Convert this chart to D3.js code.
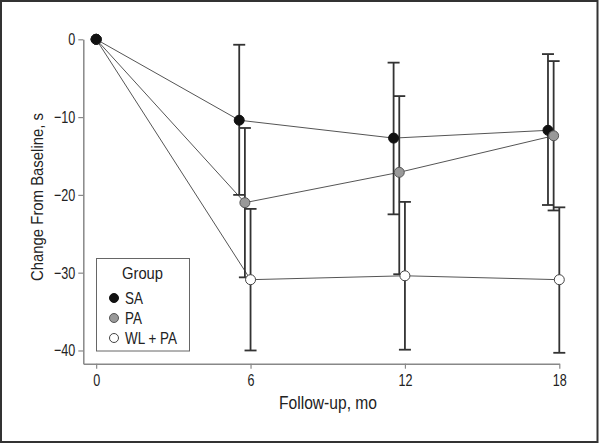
<!DOCTYPE html>
<html>
<head>
<meta charset="utf-8">
<script src="https://cdn.jsdelivr.net/npm/d3@7"></script>
<style>
  body { margin: 0; background: #fff; }
  svg { display: block; }
  text { font-family: "Liberation Sans", Arial, sans-serif; fill: #222; }
</style>
</head>
<body>
<svg id="chart" width="600" height="444"></svg>
<script>
// Data
const months = [0, 6, 12, 18];
const groups = ['SA', 'PA', 'WL + PA'];

const saMean = [0, -10.4, -12.7, -11.7];
const saLow  = [null, -20.0, -22.5, -21.3];
const saHigh = [null, -0.7, -3.0, -1.9];

const paMean = [0, -21.0, -17.1, -12.4];
const paLow  = [null, -30.6, -30.2, -22.0];
const paHigh = [null, -11.4, -7.3, -2.8];

const wlMean = [0, -30.9, -30.4, -30.9];
const wlLow  = [null, -40.0, -39.9, -40.3];
const wlHigh = [null, -21.8, -20.9, -21.6];

const yTicks = [0, -10, -20, -30, -40];

const series = [
    { name: groups[0], mean: saMean, low: saLow, high: saHigh, fill: '#111', stroke: '#111', dodge: -0.44 },
    { name: groups[1], mean: paMean, low: paLow, high: paHigh, fill: '#999', stroke: '#555', dodge: -0.22 },
    { name: groups[2], mean: wlMean, low: wlLow, high: wlHigh, fill: '#fff', stroke: '#444', dodge: 0 }
];

const svg = d3.select('#chart');

// squeeze Liberation Sans so it reads like a condensed face
function condense(sel, k) {
    sel.each(function () {
        const w = this.getComputedTextLength();
        d3.select(this).attr('textLength', w * k).attr('lengthAdjust', 'spacingAndGlyphs');
    });
}

// frame
svg.append('rect')
    .attr('x', 1).attr('y', 1)
    .attr('width', 596.5).attr('height', 441)
    .attr('fill', 'none')
    .attr('stroke', '#333')
    .attr('stroke-width', 2);

const x = d3.scaleLinear().domain([-0.5, 18]).range([83.3, 559.3]);
const y = d3.scaleLinear().domain([-41.7, 0]).range([363.7, 39.3]);

// x position, dodged except at baseline
const px = (s, i) => x(months[i] + (months[i] === 0 ? 0 : s.dodge));

// Axes
const xAxis = svg.append('g')
    .attr('transform', `translate(0,${y(-41.7)})`)
    .call(d3.axisBottom(x).tickValues(months).tickSize(5).tickSizeOuter(0).tickFormat(d3.format('d')));
const yAxis = svg.append('g')
    .attr('transform', `translate(${x(-0.5)},0)`)
    .call(d3.axisLeft(y).tickValues(yTicks).tickSize(5).tickSizeOuter(0).tickFormat(d3.format('d')));

[xAxis, yAxis].forEach(a => {
    a.select('.domain').attr('stroke', '#888').attr('stroke-width', 1.5);
    a.selectAll('.tick line').attr('stroke', '#888').attr('stroke-width', 1.2);
    a.selectAll('.tick text').attr('font-size', 17).style('font-family', '"Liberation Sans", Arial, sans-serif').style('fill', '#222');
    condense(a.selectAll('.tick text'), 0.74);
});
xAxis.selectAll('.tick text').attr('dy', '0.85em');
yAxis.selectAll('.tick text').attr('x', -8);

// Axis labels
svg.append('text')
    .attr('x', 328).attr('y', 408.5)
    .attr('text-anchor', 'middle')
    .attr('font-size', 17.5)
    .attr('textLength', 98).attr('lengthAdjust', 'spacingAndGlyphs')
    .text('Follow-up, mo');

svg.append('text')
    .attr('transform', 'rotate(-90)')
    .attr('x', -197).attr('y', 43)
    .attr('text-anchor', 'middle')
    .attr('font-size', 17)
    .attr('textLength', 168).attr('lengthAdjust', 'spacingAndGlyphs')
    .text('Change From Baseline, s');

// Connecting lines
series.forEach(s => {
    const line = d3.line()
        .x((d, i) => px(s, i))
        .y(d => y(d));
    svg.append('path')
        .datum(s.mean)
        .attr('d', line)
        .attr('fill', 'none')
        .attr('stroke', '#555')
        .attr('stroke-width', 1);
});

// Error bars
series.forEach(s => {
    const g = svg.append('g').attr('stroke', '#333').attr('stroke-width', 1.8);
    s.mean.forEach((m, i) => {
        if (s.low[i] === null) return;
        const cx = px(s, i);
        g.append('line').attr('x1', cx).attr('x2', cx).attr('y1', y(s.low[i])).attr('y2', y(s.high[i]));
        [s.low[i], s.high[i]].forEach(v => {
            g.append('line').attr('x1', cx - 6).attr('x2', cx + 6).attr('y1', y(v)).attr('y2', y(v));
        });
    });
});

// Points
series.forEach(s => {
    svg.append('g').selectAll('circle')
        .data(s.mean)
        .enter()
        .append('circle')
        .attr('cx', (d, i) => px(s, i))
        .attr('cy', d => y(d))
        .attr('r', 5)
        .attr('fill', s.fill)
        .attr('stroke', s.stroke)
        .attr('stroke-width', 1);
});
// baseline point drawn in black on top
svg.append('circle')
    .attr('cx', x(months[0])).attr('cy', y(saMean[0]))
    .attr('r', 5).attr('fill', '#111').attr('stroke', '#111');

// Legend
const lg = svg.append('g');
lg.append('rect')
    .attr('x', 96.5).attr('y', 258.5)
    .attr('width', 93).attr('height', 92.5)
    .attr('fill', '#fff')
    .attr('stroke', '#666')
    .attr('stroke-width', 1);
lg.append('text')
    .attr('x', 142.5).attr('y', 279)
    .attr('text-anchor', 'middle')
    .attr('font-size', 17)
    .attr('textLength', 41).attr('lengthAdjust', 'spacingAndGlyphs')
    .text('Group');
series.forEach((s, i) => {
    const yy = 298 + i * 20;
    lg.append('circle')
        .attr('cx', 114).attr('cy', yy)
        .attr('r', 4.5)
        .attr('fill', s.fill)
        .attr('stroke', s.stroke);
    lg.append('text')
        .attr('x', 125).attr('y', yy + 6)
        .attr('font-size', 17)
        .attr('class', 'leg-label')
        .text(s.name);
});
condense(lg.selectAll('.leg-label'), 0.79);
</script>
</body>
</html>
